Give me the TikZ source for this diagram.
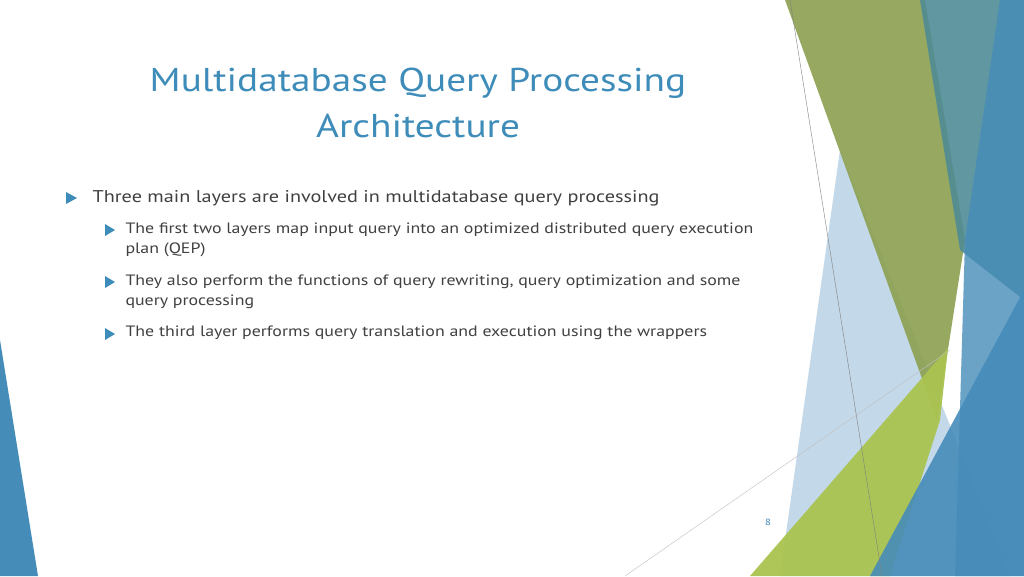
\documentclass[tikz,border=0pt]{standalone}
\usepackage{fontspec}
\setmainfont{PT Sans}[FakeStretch=1.19]
\definecolor{tblue}{RGB}{62,140,185}
\definecolor{olv}{RGB}{140,160,80}
\definecolor{tealc}{RGB}{80,140,150}
\definecolor{bluec}{RGB}{70,140,185}
\definecolor{limec}{RGB}{170,195,80}
\definecolor{paleb}{RGB}{170,200,225}
\begin{document}
\begin{tikzpicture}[x=1pt,y=-1pt,
  body/.style={anchor=west,text=black!75,font=\fontsize{17}{20}\selectfont},
  sub/.style={anchor=west,text=black!75,font=\fontsize{15}{20}\selectfont,align=left}]
\useasboundingbox (0,0) rectangle (1024,576);
\fill[white] (0,0) rectangle (1024,576);
% decorations
\fill[paleb,opacity=0.7] (780,576) -- (840,150) -- (1010,576) -- cycle;
\fill[olv,opacity=0.9] (785,0) -- (925,0) -- (965,240) -- (937,420) -- cycle;
\fill[tealc,opacity=0.9] (920,0) -- (1024,0) -- (1024,300) -- (960,250) -- cycle;
\fill[bluec,opacity=0.8] (1000,0) -- (1024,0) -- (1024,576) -- (955,576) -- (965,240) -- cycle;
\fill[limec,opacity=0.95] (750,576) -- (948,348) -- (940,420) -- (890,576) -- cycle;
\fill[bluec,opacity=0.9] (870,576) -- (1024,290) -- (1024,576) -- cycle;
\fill[bluec] (0,340) -- (38,576) -- (0,576) -- cycle;
\draw[gray,line width=0.4pt] (790,0) -- (882,576);
\draw[gray!50,line width=0.4pt] (625,576) -- (950,350);
% title
\node (t) [text=tblue,font=\fontsize{33}{46}\selectfont,align=center] at (418,103) {Multidatabase Query Processing\\Architecture};
% bullets
\fill[tblue] (66,192) -- (77,198) -- (66,204) -- cycle;
\node (b1) [body] at (89,198) {Three main layers are involved in multidatabase query processing};
\fill[tblue] (105,224) -- (115,230) -- (105,236) -- cycle;
\node (s1) [sub,anchor=north west] at (122,219) {The first two layers map input query into an optimized distributed query execution\\plan (QEP)};
\fill[tblue] (105,276) -- (115,282) -- (105,288) -- cycle;
\node (s2) [sub,anchor=north west] at (122,271) {They also perform the functions of query rewriting, query optimization and some\\query processing};
\fill[tblue] (105,328) -- (115,334) -- (105,340) -- cycle;
\node (s3) [sub] at (122,333) {The third layer performs query translation and execution using the wrappers};
\node (pg) [text=tblue,font=\fontsize{9}{10}\selectfont] at (768,522) {8};
\end{tikzpicture}
\end{document}
